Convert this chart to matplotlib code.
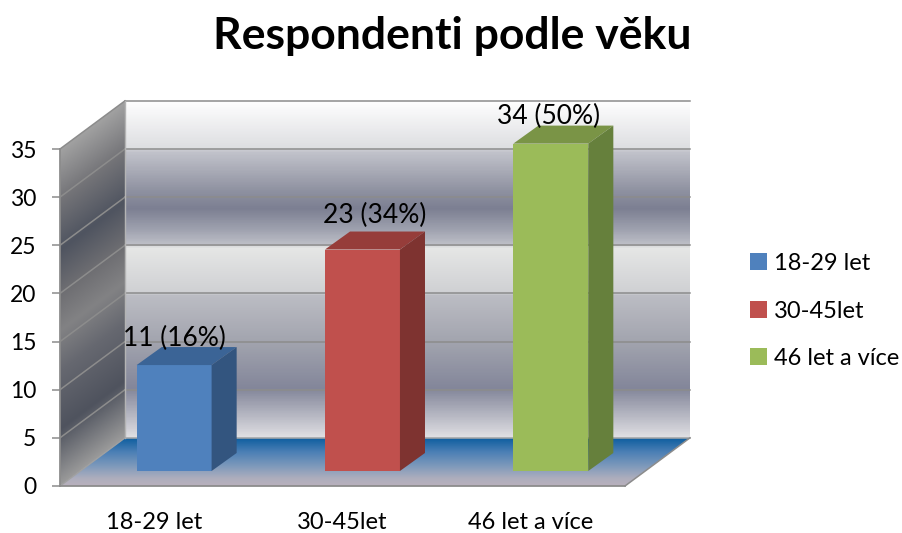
import matplotlib
matplotlib.use("Agg")
import matplotlib.pyplot as plt
import matplotlib.patches as mpatches
from matplotlib.colors import LinearSegmentedColormap
import numpy as np

categories = ["18-29 let", "30-45let", "46 let a více"]
values = [11, 23, 34]
labels = ["11 (16%)", "23 (34%)", "34 (50%)"]
yticks = [0, 5, 10, 15, 20, 25, 30, 35]

FRONT = ["#4F81BD", "#C0504D", "#9BBB59"]
TOP = ["#3B6496", "#963D3A", "#7A9446"]
SIDE = ["#33557F", "#7E3330", "#66803C"]

plt.rcParams["font.family"] = ["Lato", "DejaVu Sans"]

W, H = 902, 533
fig = plt.figure(figsize=(W / 100, H / 100), dpi=100)
ax = fig.add_axes([60 / W, 1 - 486 / H, 565 / W, 337 / H])
ax.set_xlim(0, 3)
ax.set_ylim(0, 35)

# depth of the box and of the bars, in data units
dx, dy = 0.345, 5
bar_w = 0.398
bar_dx, bar_dy = 0.133, 1.87
off_x, off_y = 0.106, 1.56
# label nudges, the original ones are placed by hand
lab_dx = [0.0, 0.065, -0.01]
lab_dy = [2.8, 3.55, 2.8]

wall_cmap = LinearSegmentedColormap.from_list("wall", [
    (0.0, "#fefefe"), (0.142, "#dcdde0"), (0.146, "#c3c4cc"), (0.264, "#8f92a1"),
    (0.318, "#7c7f92"), (0.383, "#a0a3b0"), (0.427, "#bfc0c8"), (0.433, "#e6e7e6"),
    (0.570, "#cfd0d3"), (0.576, "#bcbdc4"), (0.712, "#a3a5af"), (0.855, "#83869a"),
    (1.0, "#dfdfe3")])
side_cmap = LinearSegmentedColormap.from_list("side", [
    (0.0, "#a2a2a2"), (0.15, "#747478"), (0.30, "#4f5460"), (0.43, "#6e6e72"),
    (0.54, "#828284"), (0.66, "#666870"), (0.834, "#4f535e"), (1.0, "#9a9a9a")])
floor_cmap = LinearSegmentedColormap.from_list("floor", [
    (0.0, "#0a5c9e"), (0.3, "#4b7fb5"), (0.6, "#7f9abb"), (0.85, "#aeaebd"), (1.0, "#b8b0bc")])


def shaded(img, cmap, extent, poly):
    clip = mpatches.Polygon(poly, closed=True, transform=ax.transData)
    im = ax.imshow(img, cmap=cmap, extent=extent, aspect="auto", vmin=0, vmax=1,
                   origin="upper", zorder=1, interpolation="bilinear")
    im.set_clip_box(fig.bbox)
    im.set_clip_path(clip)


top = yticks[-1]
grad = np.linspace(0, 1, 400).reshape(-1, 1)
shaded(grad, wall_cmap, [dx, 3 + dx, dy, top + dy],
       [(dx, dy), (3 + dx, dy), (3 + dx, top + dy), (dx, top + dy)])

fr, vv = np.meshgrid(np.linspace(0, 1, 100), np.linspace(top + dy, 0, 500))
shaded(np.clip((top - (vv - dy * fr)) / top, 0, 1), side_cmap, [0, dx, 0, top + dy],
       [(0, 0), (dx, dy), (dx, top + dy), (0, top)])

shaded(np.linspace(0, 1, 100).reshape(-1, 1), floor_cmap, [0, 3 + dx, 0, dy],
       [(0, 0), (3, 0), (3 + dx, dy), (dx, dy)])
ax.set_xlim(0, 3)
ax.set_ylim(0, 35)

# grid on both walls
line = dict(color="#8c8c8c", lw=1.1, clip_on=False, zorder=2)
for v in yticks[1:]:
    ax.plot([0, dx], [v, v + dy], **line)
    ax.plot([dx, 3 + dx], [v + dy, v + dy], **line)
ax.plot([dx, 3 + dx], [dy, dy], color="#a8a8a8", lw=1.1, clip_on=False, zorder=2)
ax.plot([dx, dx], [dy, top + dy], color="#b4b4b4", lw=1.0, clip_on=False, zorder=2)
ax.plot([0, dx], [0, dy], color="#a0a0a0", lw=1.0, clip_on=False, zorder=2)
ax.plot([3, 3 + dx], [0, dy], color="#8c8c8c", lw=1.1, clip_on=False, zorder=2)

# bars
x = np.arange(len(values)) + 0.5 + off_x
ax.bar(x, values, bar_w, bottom=off_y, color=FRONT, zorder=4, clip_on=False)
for i, v in enumerate(values):
    l, r = x[i] - bar_w / 2, x[i] + bar_w / 2
    b, t = off_y, off_y + v
    ax.add_patch(mpatches.Polygon(
        [(l, t), (r, t), (r + bar_dx, t + bar_dy), (l + bar_dx, t + bar_dy)],
        color=TOP[i], lw=0, zorder=4, clip_on=False))
    ax.add_patch(mpatches.Polygon(
        [(r, b), (r + bar_dx, b + bar_dy), (r + bar_dx, t + bar_dy), (r, t)],
        color=SIDE[i], lw=0, zorder=4, clip_on=False))
    ax.text(x[i] + lab_dx[i], t + lab_dy[i], labels[i], ha="center", va="center",
            fontsize=19, color="black", zorder=6, clip_on=False)

ax.set_yticks(yticks)
ax.set_xticks(np.arange(len(categories)) + 0.5)
ax.set_xticklabels(categories)
ax.tick_params(axis="y", length=6, width=1.1, color="#8c8c8c", labelsize=16.5, pad=11)
ax.tick_params(axis="x", length=0, labelsize=17, pad=19)
for s in ["top", "right"]:
    ax.spines[s].set_visible(False)
for s in ["left", "bottom"]:
    ax.spines[s].set_color("#8c8c8c")
    ax.spines[s].set_linewidth(1.3)
    ax.spines[s].set_zorder(3)

handles = [mpatches.Patch(color=c, label=n, lw=0) for c, n in zip(FRONT, categories)]
fig.legend(handles=handles, loc="center left", bbox_to_anchor=(750 / W, 1 - 311 / H),
           frameon=False, fontsize=17, handlelength=0.72, handleheight=0.72,
           handletextpad=0.3, labelspacing=1.12, borderpad=0, borderaxespad=0)

fig.text(452 / W, 1 - 36 / H, "Respondenti podle věku", ha="center", va="center",
         fontsize=32, fontweight="bold", color="black")

fig.savefig("out.png", dpi=100)
